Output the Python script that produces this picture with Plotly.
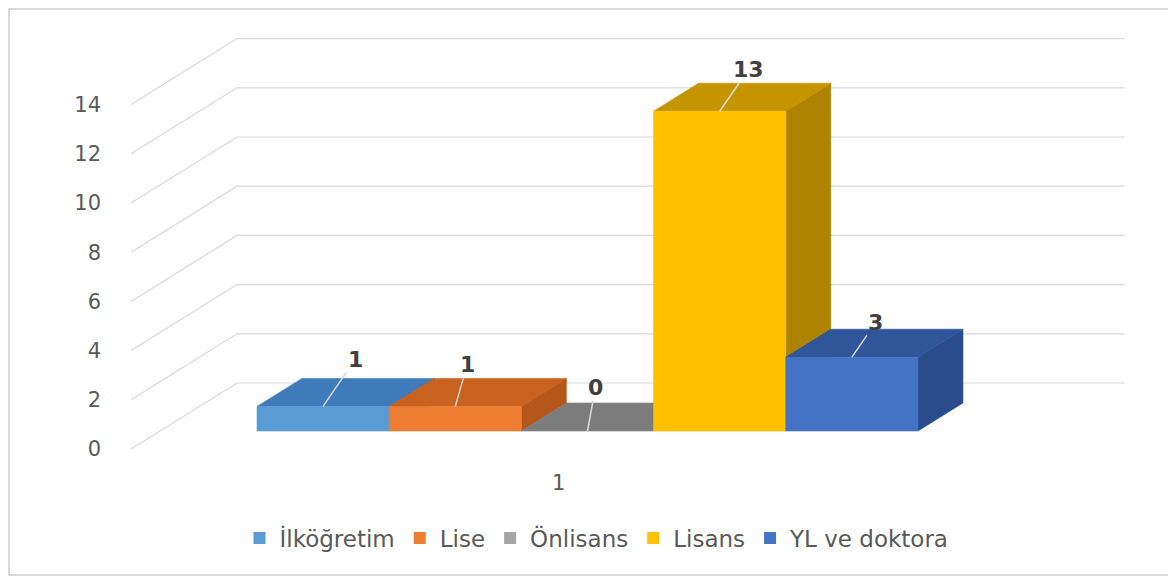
import plotly.graph_objects as go

# ---------------- data ----------------
series = ["İlköğretim", "Lise", "Önlisans", "Lisans", "YL ve doktora"]
values = [1, 1, 0, 13, 3]
category = "1"
y_ticks = [0, 2, 4, 6, 8, 10, 12, 14]

# ---------------- style ----------------
front_colors = ["#5B9BD5", "#ED7D31", "#8A8A8A", "#FFC000", "#4472C4"]
top_colors = ["#3F7BBA", "#C9621F", "#7C7C7C", "#C49500", "#2F559A"]
side_colors = ["#3A6EA6", "#B5561A", "#6E6E6E", "#AD8300", "#2A4C8A"]
legend_colors = ["#5B9BD5", "#ED7D31", "#A5A5A5", "#FFC000", "#4472C4"]
# data-label offsets (pixels) from the front-top centre of each bar
label_offsets = [(32, -47), (12, -42), (8, -44), (29, -42), (24, -35)]

FONT = "DejaVu Sans"
OFF = 8              # page offset of the plot div
W, H = 1176, 577
L, R, T, B = 96, 48, 12, 117
plot_w = W - L - R
plot_h = H - T - B

PPX = 132.2          # pixels per bar width
PPY = 24.6           # pixels per value unit
DX = 106 / PPX       # full floor depth, x-shift in axis units
DY = 66 / PPY        # full floor depth, y-shift in axis units
Z_FRONT = 18 / 66    # bar front plane (fraction of floor depth)
Z_BACK = 46 / 66     # bar back plane
X_FLOOR0 = -0.734
X_FLOOR1 = 5.98


def proj(X, Y, Z):
    return X + Z * DX, Y + Z * DY


x_ref = Z_FRONT * DX                          # bar front-left edge
x_min = x_ref - ((257 - OFF) - L) / PPX
x_max = x_min + plot_w / PPX
y_min = -((H - B) - (449 - OFF)) / PPY       # value-axis zero
y_max = y_min + plot_h / PPY

fig = go.Figure()

# walls: back-wall gridlines and side-wall diagonals
gx, gy = [], []
for v in y_ticks:
    a = proj(X_FLOOR0, v, 0)
    b = proj(X_FLOOR0, v, 1)
    c = proj(X_FLOOR1, v, 1)
    gx += [a[0], b[0], c[0], None]
    gy += [a[1], b[1], c[1], None]
fig.add_trace(go.Scatter(x=gx, y=gy, mode="lines",
                         line=dict(color="#D9D9D9", width=1.2),
                         hoverinfo="skip", showlegend=False))


def poly(pts, color, name):
    xs = [p[0] for p in pts] + [pts[0][0]]
    ys = [p[1] for p in pts] + [pts[0][1]]
    fig.add_trace(go.Scatter(x=xs, y=ys, mode="lines", fill="toself",
                             fillcolor=color, line=dict(color=color, width=0.6),
                             hoverinfo="skip", showlegend=False, name=name))


for i, v in enumerate(values):
    x0, x1 = i, i + 1
    side = [proj(x1, 0, Z_FRONT), proj(x1, v, Z_FRONT), proj(x1, v, Z_BACK), proj(x1, 0, Z_BACK)]
    top = [proj(x0, v, Z_FRONT), proj(x1, v, Z_FRONT), proj(x1, v, Z_BACK), proj(x0, v, Z_BACK)]
    front = [proj(x0, 0, Z_FRONT), proj(x1, 0, Z_FRONT), proj(x1, v, Z_FRONT), proj(x0, v, Z_FRONT)]
    if v > 0:
        poly(side, side_colors[i], series[i])
    poly(top, top_colors[i], series[i])
    if v > 0:
        poly(front, front_colors[i], series[i])

# legend entries
for i, s in enumerate(series):
    fig.add_trace(go.Scatter(x=[None], y=[None], mode="markers", name=s,
                             marker=dict(symbol="square", size=12, color=legend_colors[i])))

# data labels with leader lines
for i, v in enumerate(values):
    px_, py_ = proj(i + 0.5, v, Z_FRONT)
    ax, ay = label_offsets[i]
    fig.add_annotation(x=px_, y=py_, xref="x", yref="y", text=str(v),
                       showarrow=True, arrowhead=0, arrowwidth=1.5,
                       arrowcolor="#D9D9D9", ax=ax, ay=ay, standoff=0,
                       font=dict(family=FONT, size=22, color="#404040", weight="bold"))

# chart-area border
fig.add_shape(type="rect", xref="paper", yref="paper",
              x0=(1 - L) / plot_w, x1=((1174 - OFF) - L) / plot_w,
              y0=((H - B) - (575 - OFF)) / plot_h, y1=((H - B) - 1) / plot_h,
              line=dict(color="#D9D9D9", width=2), layer="below")

fig.update_layout(
    width=W, height=H,
    margin=dict(l=L, r=R, t=T, b=B, autoexpand=False),
    paper_bgcolor="white", plot_bgcolor="white",
    font=dict(family=FONT, color="#595959"),
    xaxis=dict(range=[x_min, x_max], showgrid=False, zeroline=False, showline=False,
               tickvals=[proj(2.5, 0, 0)[0]], ticktext=[category], ticks="",
               tickfont=dict(family=FONT, size=21, color="#595959"), fixedrange=True),
    yaxis=dict(range=[y_min, y_max], showgrid=False, zeroline=False, showline=False,
               tickvals=y_ticks, ticks="", ticklabelstandoff=2,
               tickfont=dict(family=FONT, size=21, color="#595959"), fixedrange=True),
    legend=dict(orientation="h", x=((597 - OFF) - L) / plot_w, xanchor="center",
                y=((H - B) - (538 - OFF)) / plot_h, yanchor="middle", itemwidth=30,
                font=dict(family=FONT, size=23, color="#595959")),
    showlegend=True,
)

fig.write_html("out.html")
